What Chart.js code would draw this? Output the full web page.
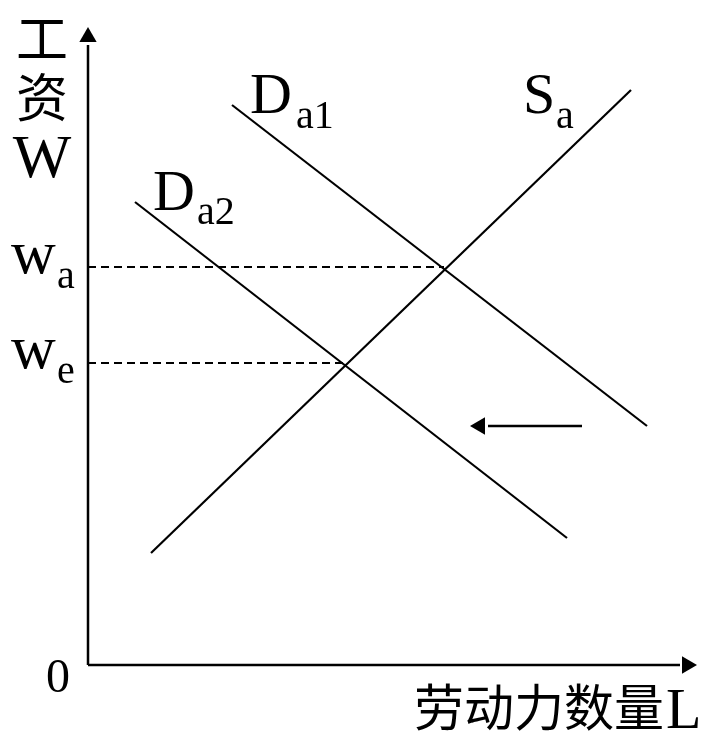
<!DOCTYPE html>
<html>
<head>
<meta charset="utf-8">
<script src="https://cdn.jsdelivr.net/npm/chart.js@4"></script>
<style>
  html, body { margin: 0; padding: 0; background: #fff; }
  #wrap { width: 716px; height: 735px; }
</style>
</head>
<body>
<div id="wrap"><canvas id="grafico" width="716" height="735"></canvas></div>
<script>
// curves, in chart units (1 unit ~ 10px)
const supplySa = [[6.3, 11.2], [54.3, 57.5]];
const demandDa1 = [[14.4, 56.0], [55.9, 23.9]];
const demandDa2 = [[4.7, 46.3], [47.9, 12.7]];
// wa, we and the quantity where each dashed guide stops
const wageLevels = [39.8, 30.2];
const wageQty = [35.6, 25.7];
// shift arrow: from x, to x, at y
const shiftArrow = [49.4, 40.0, 23.9];
const axisMax = [61, 63.8];

const serif = '"Liberation Serif", "DejaVu Serif", serif';
const cjk = '"Noto Sans CJK SC", sans-serif';

function pts(arr) {
    return arr.map(p => ({ x: p[0], y: p[1] }));
}

function lineSet(data, width, dash) {
    return {
        type: 'line',
        data: data,
        borderColor: '#000',
        borderWidth: width,
        borderDash: dash || [],
        pointRadius: 0,
        showLine: true,
        fill: false,
        clip: false,
    };
}

// text drawn on top, canvas pixels
const textos = {
    id: 'textos',
    afterDraw(chart) {
        const ctx = chart.ctx;
        ctx.save();
        ctx.fillStyle = '#000';
        const put = (t, x, y, font, align, base) => {
            ctx.font = font;
            ctx.textAlign = align || 'left';
            ctx.textBaseline = base || 'alphabetic';
            ctx.fillText(t, x, y);
        };
        put('工', 42, 38, '52px ' + cjk, 'center', 'middle');
        put('资', 42, 97, '52px ' + cjk, 'center', 'middle');
        put('W', 42, 177, '62px ' + serif, 'center');

        put('w', 11, 273, '62px ' + serif);
        put('a', 57, 288, '40px ' + serif);
        put('w', 11, 368, '62px ' + serif);
        put('e', 57, 383, '40px ' + serif);

        put('D', 250, 113, '58px ' + serif);
        put('a1', 296, 128, '40px ' + serif);
        put('S', 523, 113, '58px ' + serif);
        put('a', 556, 128, '40px ' + serif);
        put('D', 153, 210, '58px ' + serif);
        put('a2', 197, 224, '40px ' + serif);

        put('0', 58, 692, '48px ' + serif, 'center');
        put('劳动力数量', 414, 707, '50px ' + cjk, 'left', 'middle');
        put('L', 666, 728, '58px ' + serif);
        ctx.restore();
    }
};

const guides = wageLevels.map((w, i) => lineSet([{ x: 0, y: w }, { x: wageQty[i], y: w }], 1.8, [8, 5]));

const chart = new Chart(document.getElementById('grafico'), {
    type: 'scatter',
    data: {
        datasets: [
            lineSet([{ x: 0, y: 0 }, { x: 0, y: 62 }], 2.5),
            lineSet([{ x: 0, y: 0 }, { x: 59.2, y: 0 }], 2.5),
            lineSet(pts(supplySa), 2.2),
            lineSet(pts(demandDa1), 2.2),
            lineSet(pts(demandDa2), 2.2),
            ...guides,
            lineSet([{ x: shiftArrow[0], y: shiftArrow[2] }, { x: shiftArrow[1], y: shiftArrow[2] }], 2.5),
            {
                // arrow heads
                data: [{ x: 0, y: 62.8 }, { x: 59.9, y: 0 }, { x: shiftArrow[1] - 0.8, y: shiftArrow[2] }],
                pointStyle: 'triangle',
                rotation: [0, 90, 270],
                pointRadius: 10,
                backgroundColor: '#000',
                borderColor: '#000',
                borderWidth: 0,
                clip: false,
            },
        ]
    },
    options: {
        responsive: false,
        animation: false,
        devicePixelRatio: 1,
        layout: { padding: { left: 88, right: 18, top: 27, bottom: 70 } },
        plugins: { legend: { display: false }, tooltip: { enabled: false } },
        scales: {
            x: { type: 'linear', min: 0, max: axisMax[0], display: false },
            y: { type: 'linear', min: 0, max: axisMax[1], display: false },
        }
    },
    plugins: [textos]
});
</script>
</body>
</html>
